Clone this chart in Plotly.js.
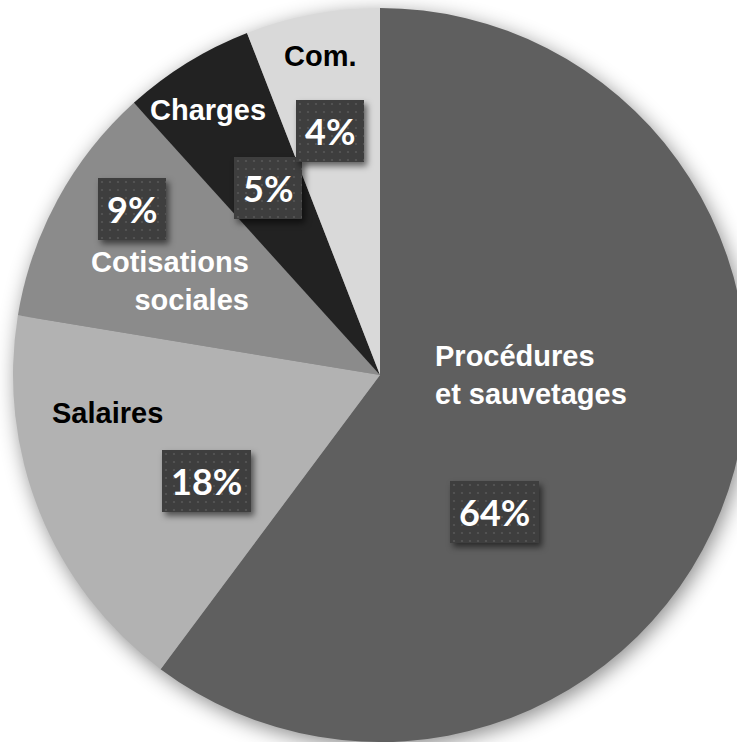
<!DOCTYPE html>
<html>
<head>
<meta charset="utf-8">
<script src="https://cdn.plot.ly/plotly-3.0.1.min.js"></script>
<style>
html,body{margin:0;padding:0;background:#fff;overflow:hidden;width:737px;height:742px;}
#chart{width:760px;height:742px;}
#chart .pielayer{filter:drop-shadow(3px 5px 10px rgba(0,0,0,0.45));}
</style>
</head>
<body>
<svg width="0" height="0" style="position:absolute">
  <defs>
    <pattern id="dots" width="8" height="8" patternUnits="userSpaceOnUse">
      <rect width="8" height="8" fill="#3e3e3e"/>
      <circle cx="4" cy="4" r="1.1" fill="#575757"/>
    </pattern>
  </defs>
</svg>
<div id="chart"></div>
<script>
// ---- data ----
const categories = ["Procédures<br>et sauvetages", "Salaires", "Cotisations<br>sociales", "Charges", "Com."];
const shares = [60.2, 17.4, 10.7, 5.8, 5.9];      // slice sizes as drawn
const pctLabels = ["64%", "18%", "9%", "5%", "4%"]; // printed labels

// ---- styles ----
const sliceColors = ["#5f5f5f", "#b2b2b2", "#8b8b8b", "#222222", "#d9d9d9"];
const nameColors = ["#ffffff", "#000000", "#ffffff", "#ffffff", "#000000"];

const W = 760, H = 742;
const ax = p => p / W;
const ay = p => 1 - p / H;

// label placements (pixel positions in the page)
const namePos = [
  {x: 433, y: 375, xa: "left", align: "left"},
  {x: 107, y: 413, xa: "center", align: "center"},
  {x: 251, y: 281, xa: "right", align: "right"},
  {x: 207.5, y: 110, xa: "center", align: "center"},
  {x: 320.5, y: 56, xa: "center", align: "center"}
];
const pctPos = [
  {x: 494.5, y: 511.5},
  {x: 206.5, y: 480.5},
  {x: 131.5, y: 209},
  {x: 268, y: 188},
  {x: 330, y: 130.5}
];

const bold = s => s.split("<br>").map(p => "<b>" + p + "</b>").join("<br>");

const annotations = [];
categories.forEach((c, i) => {
  annotations.push({
    text: bold(c), xref: "paper", yref: "paper",
    x: ax(namePos[i].x), y: ay(namePos[i].y),
    xanchor: namePos[i].xa, yanchor: "middle", align: namePos[i].align,
    showarrow: false,
    font: {family: "Liberation Sans, Arial, sans-serif", size: 29, color: nameColors[i]}
  });
});
pctLabels.forEach((t, i) => {
  annotations.push({
    text: bold(t), xref: "paper", yref: "paper",
    x: ax(pctPos[i].x), y: ay(pctPos[i].y),
    xanchor: "center", yanchor: "middle",
    showarrow: false,
    bgcolor: "#404040", borderpad: 9, borderwidth: 0,
    font: {family: "Lato, sans-serif", size: 36, color: "#ffffff"}
  });
});

const trace = {
  type: "pie",
  labels: categories,
  values: shares,
  sort: false,
  direction: "clockwise",
  rotation: 0,
  textinfo: "none",
  hoverinfo: "skip",
  marker: {colors: sliceColors, line: {width: 0}},
  domain: {x: [ax(13), ax(747)], y: [0, ay(8)]}
};

const layout = {
  width: W, height: H,
  margin: {l: 0, r: 0, t: 0, b: 0},
  paper_bgcolor: "#ffffff",
  showlegend: false,
  annotations: annotations
};

Plotly.newPlot("chart", [trace], layout, {displayModeBar: false, staticPlot: true}).then(() => {
  const n = categories.length;
  pctLabels.forEach((t, i) => {
    const g = document.querySelector('#chart g.annotation[data-index="' + (n + i) + '"] rect.bg');
    if (g) {
      g.style.fill = "url(#dots)";
      g.style.filter = "drop-shadow(3px 4px 3px rgba(0,0,0,0.55))";
    }
  });
});
</script>
</body>
</html>
